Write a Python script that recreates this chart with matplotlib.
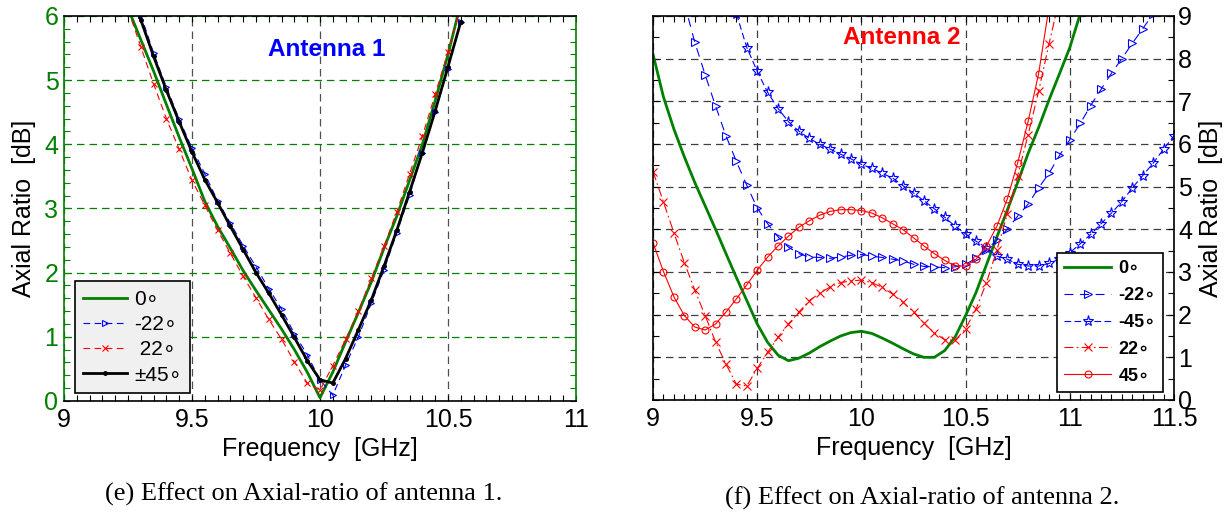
import matplotlib
matplotlib.use('Agg')
import matplotlib.pyplot as plt
import numpy as np
from matplotlib.ticker import MultipleLocator

plt.rcParams['font.family'] = ['Liberation Sans', 'DejaVu Sans']

nan = np.nan

# antenna 1 (left panel)
freq_a1 = [9.25, 9.30, 9.35, 9.40, 9.45, 9.50, 9.55, 9.60, 9.65, 9.70, 9.75, 9.80, 9.85, 9.90,
           9.95, 10.00, 10.05, 10.10, 10.15, 10.20, 10.25, 10.30, 10.35, 10.40, 10.45, 10.50, 10.55]
a1_0 = [6.12, 5.63, 5.14, 4.62, 4.11, 3.62, 3.11, 2.72, 2.38, 2.03, 1.72, 1.42, 1.12, 0.80,
        0.45, 0.05, 0.45, 0.92, 1.38, 1.85, 2.38, 2.88, 3.44, 4.00, 4.68, 5.40, 6.20]
a1_m22 = [nan, 6.02, 5.42, 4.89, 4.39, 3.94, 3.54, 3.12, 2.77, 2.42, 2.09, 1.75, 1.43, 1.05,
          0.72, 0.33, 0.09, 0.56, 1.00, 1.52, 2.04, 2.62, 3.21, 3.87, 4.51, 5.18, 5.91]
a1_p22 = [6.10, 5.52, 4.94, 4.40, 3.92, 3.44, 3.05, 2.66, 2.30, 1.94, 1.61, 1.27, 0.96, 0.61,
          0.28, 0.17, 0.55, 0.96, 1.40, 1.91, 2.41, 2.95, 3.54, 4.13, 4.78, 5.44, 6.15]
a1_45 = [6.50, 5.94, 5.37, 4.84, 4.35, 3.88, 3.45, 3.09, 2.72, 2.36, 2.00, 1.68, 1.34, 0.99,
         0.63, 0.33, 0.28, 0.66, 1.11, 1.57, 2.10, 2.66, 3.26, 3.87, 4.52, 5.21, 5.91]

# antenna 2 (right panel)
freq_a2 = [9.00, 9.05, 9.10, 9.15, 9.20, 9.25, 9.30, 9.35, 9.40, 9.45, 9.50, 9.55, 9.60, 9.65,
           9.70, 9.75, 9.80, 9.85, 9.90, 9.95, 10.00, 10.05, 10.10, 10.15, 10.20, 10.25, 10.30,
           10.35, 10.40, 10.45, 10.50, 10.55, 10.60, 10.65, 10.70, 10.75, 10.80, 10.85, 10.90,
           10.95, 11.00, 11.05, 11.10, 11.15, 11.20, 11.25, 11.30, 11.35, 11.40, 11.45, 11.50]
a2_0 = [8.10, 7.10, 6.35, 5.70, 5.10, 4.55, 4.00, 3.43, 2.87, 2.33, 1.78, 1.35, 1.05, 0.92,
        0.98, 1.10, 1.25, 1.38, 1.50, 1.58, 1.61, 1.56, 1.45, 1.33, 1.20, 1.08, 1.00,
        1.00, 1.16, 1.48, 1.98, 2.52, 3.17, 3.82, 4.45, 5.10, 5.78, 6.38, 7.03,
        7.64, 8.26, 9.05, nan, nan, nan, nan, nan, nan, nan, nan, nan]
a2_m22 = [nan, nan, nan, 9.30, 8.39, 7.62, 6.89, 6.19, 5.59, 5.03, 4.50, 4.13, 3.82, 3.58,
          3.43, 3.35, 3.34, 3.32, 3.35, 3.39, 3.41, 3.37, 3.34, 3.30, 3.26, 3.18, 3.13,
          3.12, 3.10, 3.12, 3.18, 3.32, 3.52, 3.75, 4.00, 4.31, 4.59, 4.97, 5.31,
          5.73, 6.10, 6.48, 6.90, 7.28, 7.66, 8.00, 8.36, 8.70, 9.05, nan, nan]
a2_m45 = [nan, nan, nan, nan, nan, nan, nan, nan, 9.05, 8.26, 7.70, 7.21, 6.83, 6.52,
          6.30, 6.13, 5.99, 5.88, 5.76, 5.65, 5.52, 5.43, 5.31, 5.20, 5.02, 4.85, 4.67,
          4.48, 4.28, 4.07, 3.89, 3.72, 3.57, 3.37, 3.30, 3.18, 3.14, 3.14, 3.20,
          3.30, 3.45, 3.66, 3.88, 4.13, 4.38, 4.65, 4.97, 5.26, 5.55, 5.88, 6.19]
a2_p22 = [5.35, 4.64, 3.92, 3.22, 2.58, 1.98, 1.36, 0.84, 0.37, 0.33, 0.74, 1.12, 1.47, 1.78,
          2.06, 2.33, 2.50, 2.65, 2.75, 2.79, 2.81, 2.75, 2.64, 2.48, 2.29, 2.06, 1.80,
          1.57, 1.41, 1.40, 1.67, 2.13, 2.75, 3.51, 4.36, 5.26, 6.22, 7.23, 8.34,
          9.40, nan, nan, nan, nan, nan, nan, nan, nan, nan, nan, nan]
a2_p45 = [3.68, 3.01, 2.42, 1.98, 1.71, 1.64, 1.78, 2.06, 2.37, 2.70, 3.04, 3.35, 3.61, 3.84,
          4.05, 4.20, 4.33, 4.42, 4.46, 4.46, 4.44, 4.38, 4.27, 4.13, 3.99, 3.80, 3.61,
          3.43, 3.27, 3.14, 3.14, 3.30, 3.61, 4.07, 4.71, 5.56, 6.53, 7.64, 9.20,
          nan, nan, nan, nan, nan, nan, nan, nan, nan, nan, nan, nan]

GREEN = '#008000'
DEG = '\u2218'

fig = plt.figure(figsize=(12.31, 5.19), dpi=100)
fmt = plt.FuncFormatter(lambda v, p: '%g' % v)

# ---------------- left panel ----------------
ax1 = fig.add_axes([0.052, 0.2274, 0.4159, 0.7418])
ax1.plot(freq_a1, a1_0, color=GREEN, lw=2, label='0' + DEG)
ax1.plot(freq_a1, a1_m22, color='blue', lw=0.8, ls=(0, (6, 4)), marker='>', ms=5,
         mfc='none', mew=0.8, label='-22' + DEG)
ax1.plot(freq_a1, a1_p22, color='red', lw=0.8, ls=(0, (6, 4)), marker='x', ms=5,
         mew=0.8, label=' 22' + DEG)
ax1.plot(freq_a1, a1_45, color='black', lw=2, marker='.', ms=5, label='\u00b145' + DEG)

ax1.set_xlim(9, 11)
ax1.set_ylim(0, 6)
ax1.xaxis.set_major_locator(MultipleLocator(0.5))
ax1.xaxis.set_minor_locator(MultipleLocator(0.05))
ax1.yaxis.set_major_locator(MultipleLocator(1))
ax1.yaxis.set_minor_locator(MultipleLocator(0.2))
ax1.xaxis.set_major_formatter(fmt)
ax1.yaxis.set_major_formatter(fmt)
ax1.yaxis.grid(True, color=GREEN, ls=(0, (6, 4)), lw=0.9)
ax1.xaxis.grid(True, color='#505050', ls=(0, (6, 4)), lw=0.9)
ax1.tick_params(which='both', direction='in', top=True, right=True, length=4, width=0.8)
ax1.tick_params(axis='both', labelsize=18, pad=5)
ax1.tick_params(axis='y', which='both', color=GREEN, labelcolor=GREEN, pad=4)
ax1.spines['left'].set_color(GREEN)
ax1.spines['right'].set_color(GREEN)
for s in ax1.spines.values():
    s.set_linewidth(1.2)
ax1.set_xlabel('Frequency  [GHz]', fontsize=18, labelpad=4)
ax1.set_ylabel('Axial Ratio  [dB]', fontsize=18, labelpad=6)
ax1.text(0.514, 0.914, 'Antenna 1', transform=ax1.transAxes, color='blue',
         fontsize=17.5, fontweight='bold', ha='center', va='center')
leg1 = ax1.legend(loc='lower left', bbox_to_anchor=(0.0215, 0.021), borderaxespad=0,
                  fontsize=15, handlelength=2.1, handletextpad=0.35, labelspacing=0.3,
                  fancybox=False, facecolor='#f0f0f0', edgecolor='black', framealpha=1)
leg1.get_frame().set_linewidth(1.2)

# ---------------- right panel ----------------
ax2 = fig.add_axes([0.5305, 0.2293, 0.4232, 0.740])
ax2.plot(freq_a2, a2_0, color=GREEN, lw=2, label='0' + DEG)
ax2.plot(freq_a2, a2_m22, color='blue', lw=0.8, ls=(0, (8, 6)), marker='>', ms=6,
         mfc='none', mew=0.8, label='-22' + DEG)
ax2.plot(freq_a2, a2_m45, color='blue', lw=0.8, ls=(0, (6, 3)), marker='*', ms=8,
         mfc='none', mew=0.8, label='-45' + DEG)
ax2.plot(freq_a2, a2_p22, color='red', lw=0.8, ls=(0, (8, 3, 1.5, 3)), marker='x', ms=6,
         mew=0.8, label='22' + DEG)
ax2.plot(freq_a2, a2_p45, color='red', lw=0.8, ls='-', marker='o', ms=5,
         mfc='none', mew=0.8, label='45' + DEG)

ax2.set_xlim(9, 11.5)
ax2.set_ylim(0, 9)
ax2.xaxis.set_major_locator(MultipleLocator(0.5))
ax2.xaxis.set_minor_locator(MultipleLocator(0.05))
ax2.yaxis.set_major_locator(MultipleLocator(1))
ax2.yaxis.set_minor_locator(MultipleLocator(0.5))
ax2.xaxis.set_major_formatter(fmt)
ax2.yaxis.set_major_formatter(fmt)
ax2.grid(True, color='#404040', ls=(0, (6, 4)), lw=0.9)
ax2.yaxis.tick_right()
ax2.yaxis.set_label_position('right')
ax2.tick_params(which='both', direction='in', top=True, right=True, left=True,
                length=4, width=0.8)
ax2.tick_params(axis='both', labelsize=18, pad=5, labelleft=False, labelright=True)
ax2.tick_params(axis='y', pad=3)
for s in ax2.spines.values():
    s.set_linewidth(1.2)
ax2.set_xlabel('Frequency  [GHz]', fontsize=18, labelpad=4)
ax2.set_ylabel('Axial Ratio  [dB]', fontsize=18, labelpad=5, rotation=90)
ax2.text(0.478, 0.943, 'Antenna 2', transform=ax2.transAxes, color='red',
         fontsize=17.5, fontweight='bold', ha='center', va='center')
leg2 = ax2.legend(loc='lower right', bbox_to_anchor=(0.979, 0.021), borderaxespad=0,
                  prop={'size': 13, 'weight': 'bold'}, handlelength=2.6,
                  handletextpad=0.4, labelspacing=0.55, fancybox=False,
                  facecolor='white', edgecolor='black', framealpha=1)
leg2.get_frame().set_linewidth(1.2)

# captions
fig.text(0.247, 0.048, '(e) Effect on Axial-ratio of antenna 1.', family='Liberation Serif',
         fontsize=19, ha='center', va='center')
fig.text(0.749, 0.040, '(f) Effect on Axial-ratio of antenna 2.', family='Liberation Serif',
         fontsize=19, ha='center', va='center')

fig.savefig('out.png', dpi=100)
